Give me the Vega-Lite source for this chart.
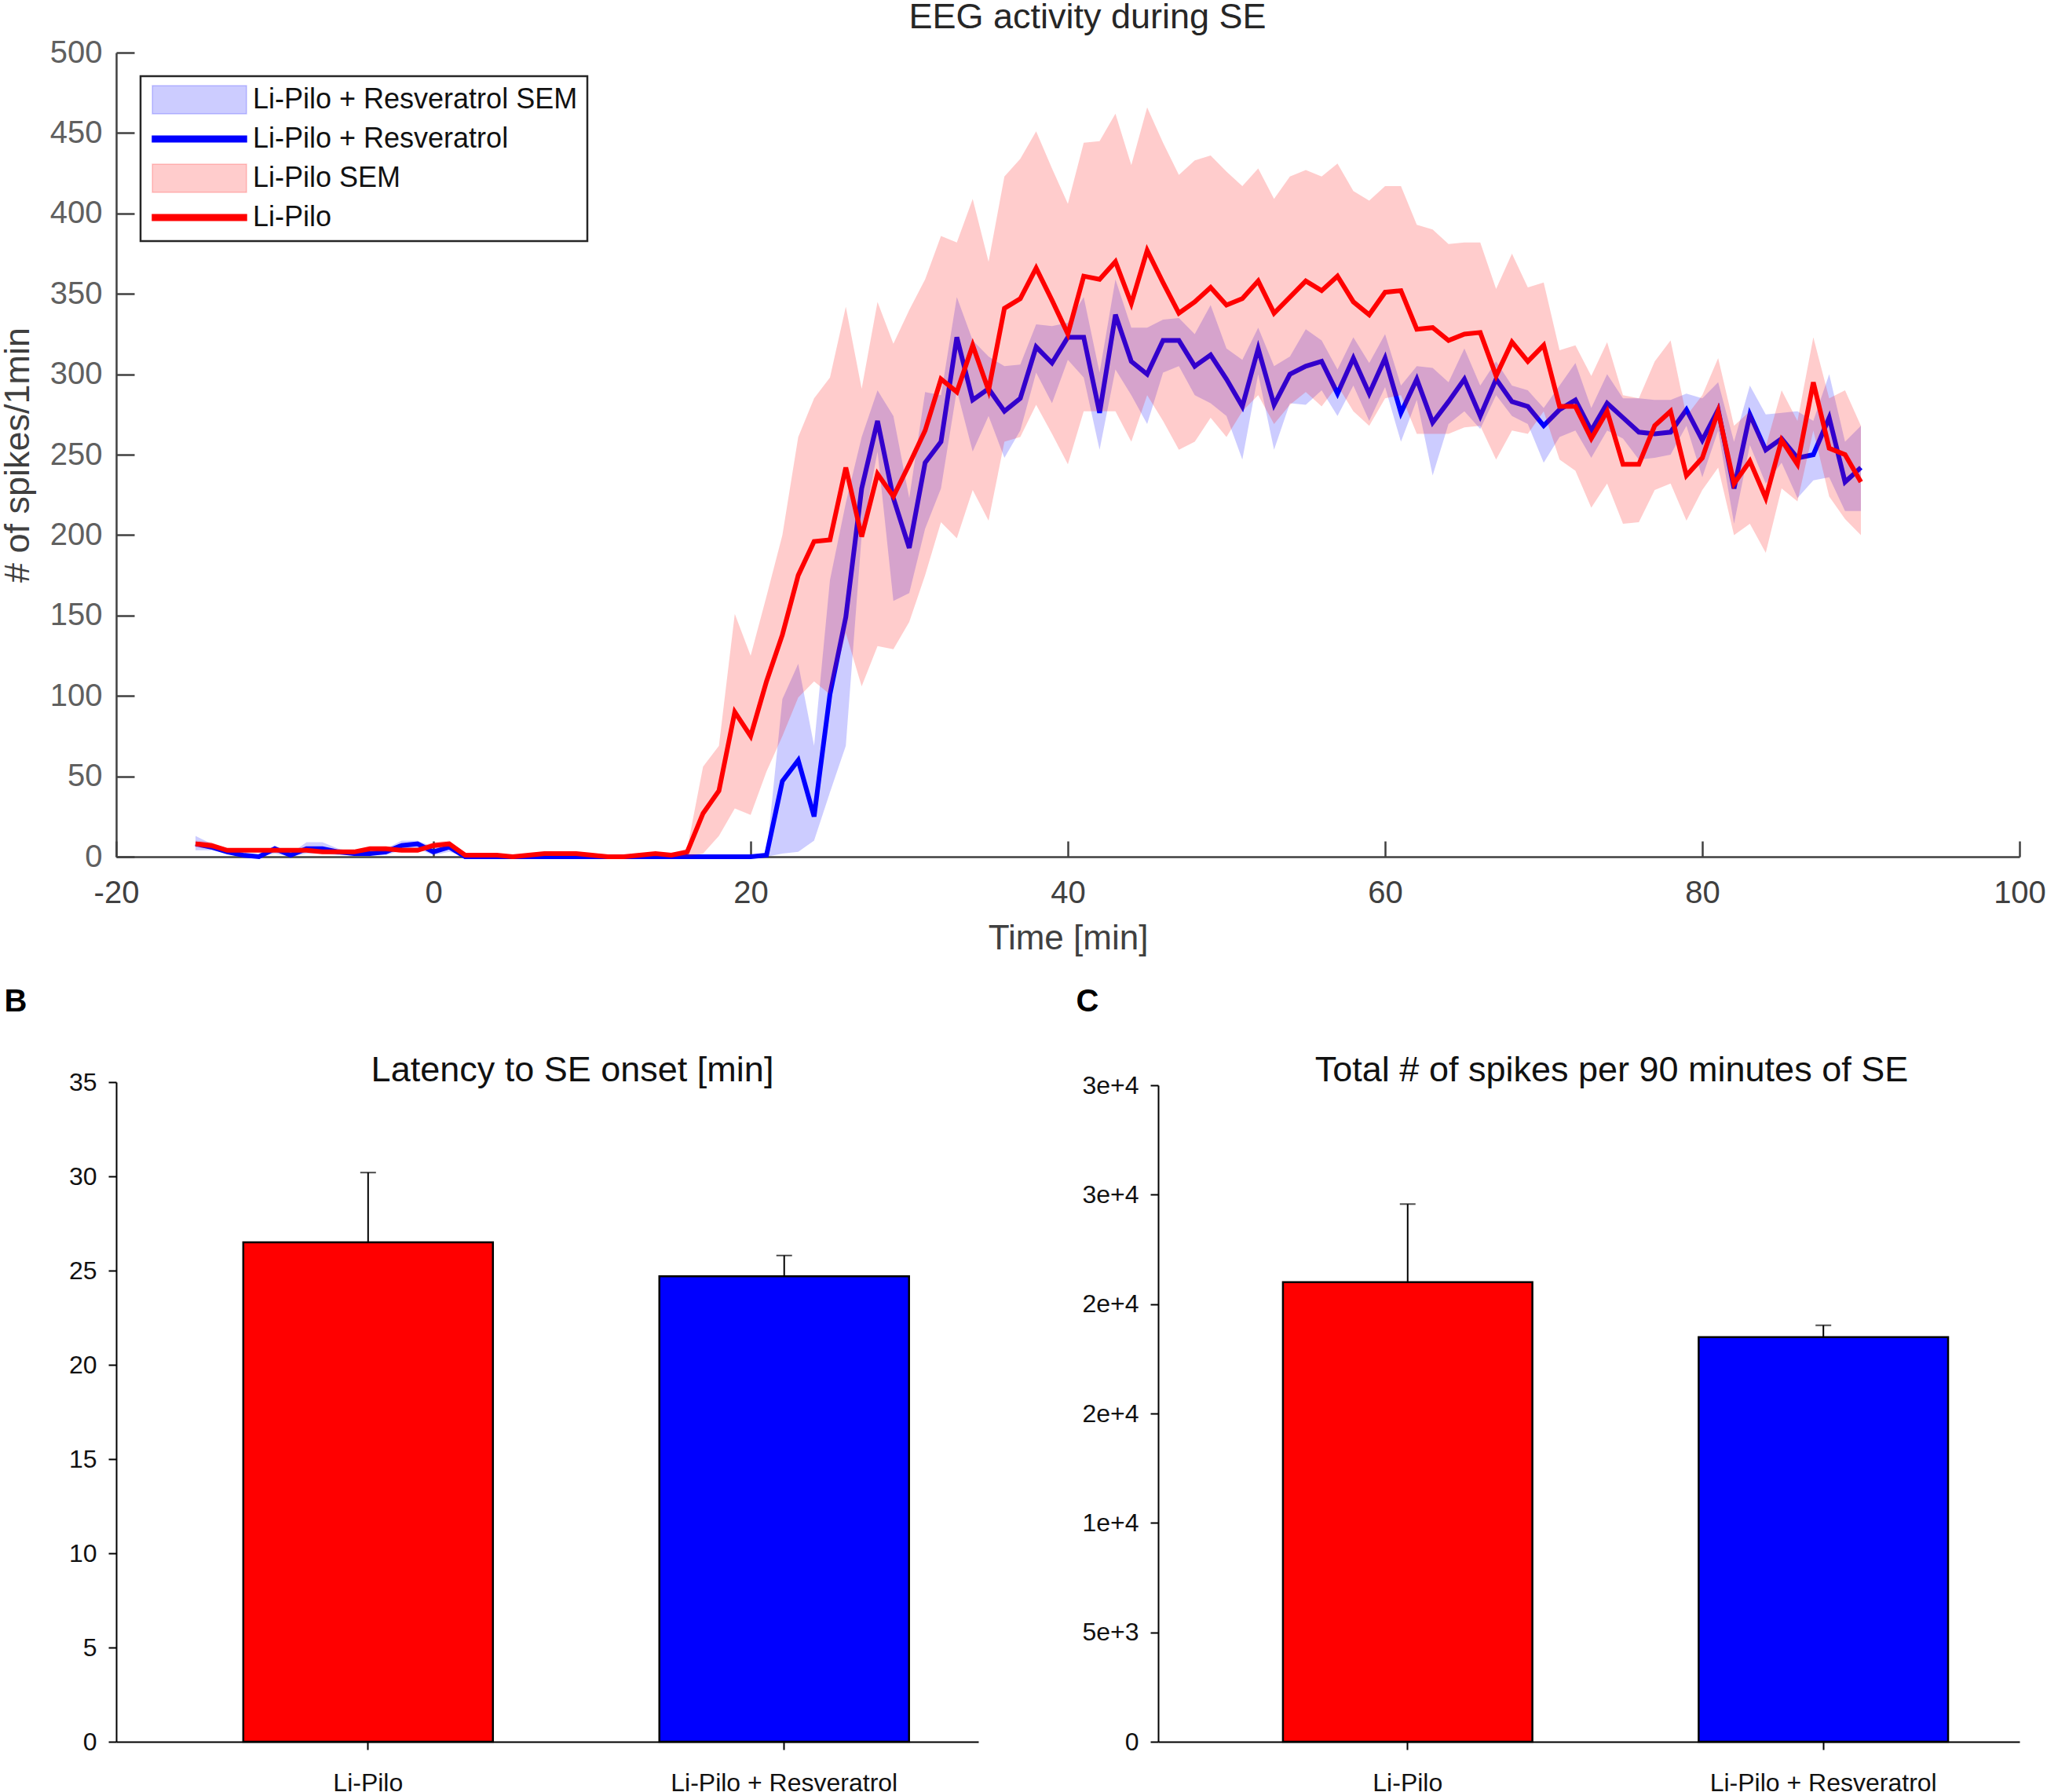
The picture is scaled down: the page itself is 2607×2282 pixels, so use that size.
{
  "$schema": "https://vega.github.io/schema/vega-lite/v6.json",
  "background": "white",
  "padding": {"left": 0, "top": 0, "right": 0, "bottom": 0},
  "config": {"view": {"stroke": null}, "font": "Liberation Sans", "legend": {"strokeWidth": 2.5}},
  "datasets": {
    "eeg": [
      {"t":-15,"rv":8,"rv_lo":4,"rv_hi":13,"lp":8,"lp_lo":6,"lp_hi":10},
      {"t":-14,"rv":6,"rv_lo":4,"rv_hi":8,"lp":7,"lp_lo":5,"lp_hi":9},
      {"t":-13,"rv":3,"rv_lo":2,"rv_hi":4,"lp":4,"lp_lo":3,"lp_hi":5},
      {"t":-12,"rv":1,"rv_lo":0,"rv_hi":2,"lp":4,"lp_lo":3,"lp_hi":5},
      {"t":-11,"rv":0,"rv_lo":0,"rv_hi":1,"lp":4,"lp_lo":3,"lp_hi":5},
      {"t":-10,"rv":5,"rv_lo":2,"rv_hi":7,"lp":4,"lp_lo":3,"lp_hi":5},
      {"t":-9,"rv":1,"rv_lo":0,"rv_hi":2,"lp":4,"lp_lo":3,"lp_hi":5},
      {"t":-8,"rv":5,"rv_lo":2,"rv_hi":9,"lp":4,"lp_lo":3,"lp_hi":5},
      {"t":-7,"rv":5,"rv_lo":2,"rv_hi":9,"lp":3,"lp_lo":2,"lp_hi":4},
      {"t":-6,"rv":3,"rv_lo":1,"rv_hi":5,"lp":3,"lp_lo":2,"lp_hi":4},
      {"t":-5,"rv":2,"rv_lo":1,"rv_hi":3,"lp":3,"lp_lo":2,"lp_hi":4},
      {"t":-4,"rv":2,"rv_lo":1,"rv_hi":3,"lp":5,"lp_lo":3,"lp_hi":6},
      {"t":-3,"rv":3,"rv_lo":1,"rv_hi":5,"lp":5,"lp_lo":3,"lp_hi":6},
      {"t":-2,"rv":7,"rv_lo":4,"rv_hi":10,"lp":4,"lp_lo":3,"lp_hi":6},
      {"t":-1,"rv":8,"rv_lo":5,"rv_hi":10,"lp":4,"lp_lo":3,"lp_hi":6},
      {"t":0,"rv":3,"rv_lo":1,"rv_hi":6,"lp":7,"lp_lo":5,"lp_hi":9},
      {"t":1,"rv":6,"rv_lo":3,"rv_hi":8,"lp":8,"lp_lo":6,"lp_hi":10},
      {"t":2,"rv":0,"rv_lo":0,"rv_hi":1,"lp":1,"lp_lo":0,"lp_hi":2},
      {"t":3,"rv":0,"rv_lo":0,"rv_hi":0,"lp":1,"lp_lo":0,"lp_hi":2},
      {"t":4,"rv":0,"rv_lo":0,"rv_hi":0,"lp":1,"lp_lo":0,"lp_hi":2},
      {"t":5,"rv":0,"rv_lo":0,"rv_hi":0,"lp":0,"lp_lo":0,"lp_hi":1},
      {"t":6,"rv":0,"rv_lo":0,"rv_hi":0,"lp":1,"lp_lo":0,"lp_hi":2},
      {"t":7,"rv":0,"rv_lo":0,"rv_hi":0,"lp":2,"lp_lo":1,"lp_hi":3},
      {"t":8,"rv":0,"rv_lo":0,"rv_hi":0,"lp":2,"lp_lo":1,"lp_hi":3},
      {"t":9,"rv":0,"rv_lo":0,"rv_hi":0,"lp":2,"lp_lo":1,"lp_hi":3},
      {"t":10,"rv":0,"rv_lo":0,"rv_hi":0,"lp":1,"lp_lo":0,"lp_hi":2},
      {"t":11,"rv":0,"rv_lo":0,"rv_hi":0,"lp":0,"lp_lo":0,"lp_hi":1},
      {"t":12,"rv":0,"rv_lo":0,"rv_hi":0,"lp":0,"lp_lo":0,"lp_hi":1},
      {"t":13,"rv":0,"rv_lo":0,"rv_hi":0,"lp":1,"lp_lo":0,"lp_hi":2},
      {"t":14,"rv":0,"rv_lo":0,"rv_hi":0,"lp":2,"lp_lo":1,"lp_hi":3},
      {"t":15,"rv":0,"rv_lo":0,"rv_hi":0,"lp":1,"lp_lo":0,"lp_hi":2},
      {"t":16,"rv":0,"rv_lo":0,"rv_hi":0,"lp":3,"lp_lo":0,"lp_hi":5},
      {"t":17,"rv":0,"rv_lo":0,"rv_hi":0,"lp":27,"lp_lo":2,"lp_hi":56},
      {"t":18,"rv":0,"rv_lo":0,"rv_hi":0,"lp":41,"lp_lo":13,"lp_hi":69},
      {"t":19,"rv":0,"rv_lo":0,"rv_hi":0,"lp":90,"lp_lo":30,"lp_hi":151},
      {"t":20,"rv":0,"rv_lo":0,"rv_hi":0,"lp":75,"lp_lo":26,"lp_hi":125},
      {"t":21,"rv":1,"rv_lo":0,"rv_hi":1,"lp":109,"lp_lo":53,"lp_hi":162},
      {"t":22,"rv":47,"rv_lo":2,"rv_hi":98,"lp":138,"lp_lo":75,"lp_hi":200},
      {"t":23,"rv":60,"rv_lo":3,"rv_hi":120,"lp":175,"lp_lo":99,"lp_hi":261},
      {"t":24,"rv":25,"rv_lo":10,"rv_hi":69,"lp":196,"lp_lo":109,"lp_hi":285},
      {"t":25,"rv":101,"rv_lo":40,"rv_hi":172,"lp":197,"lp_lo":101,"lp_hi":298},
      {"t":26,"rv":149,"rv_lo":69,"rv_hi":220,"lp":242,"lp_lo":139,"lp_hi":342},
      {"t":27,"rv":229,"rv_lo":200,"rv_hi":261,"lp":199,"lp_lo":106,"lp_hi":291},
      {"t":28,"rv":271,"rv_lo":252,"rv_hi":290,"lp":238,"lp_lo":131,"lp_hi":345},
      {"t":29,"rv":223,"rv_lo":159,"rv_hi":274,"lp":224,"lp_lo":129,"lp_hi":319},
      {"t":30,"rv":192,"rv_lo":164,"rv_hi":223,"lp":244,"lp_lo":146,"lp_hi":340},
      {"t":31,"rv":245,"rv_lo":204,"rv_hi":289,"lp":265,"lp_lo":175,"lp_hi":359},
      {"t":32,"rv":258,"rv_lo":229,"rv_hi":287,"lp":297,"lp_lo":208,"lp_hi":386},
      {"t":33,"rv":323,"rv_lo":290,"rv_hi":348,"lp":289,"lp_lo":198,"lp_hi":382},
      {"t":34,"rv":284,"rv_lo":252,"rv_hi":321,"lp":318,"lp_lo":228,"lp_hi":409},
      {"t":35,"rv":291,"rv_lo":274,"rv_hi":311,"lp":290,"lp_lo":209,"lp_hi":370},
      {"t":36,"rv":277,"rv_lo":248,"rv_hi":305,"lp":341,"lp_lo":258,"lp_hi":423},
      {"t":37,"rv":285,"rv_lo":265,"rv_hi":306,"lp":347,"lp_lo":261,"lp_hi":434},
      {"t":38,"rv":317,"rv_lo":301,"rv_hi":331,"lp":366,"lp_lo":281,"lp_hi":451},
      {"t":39,"rv":307,"rv_lo":282,"rv_hi":330,"lp":346,"lp_lo":263,"lp_hi":428},
      {"t":40,"rv":323,"rv_lo":309,"rv_hi":332,"lp":325,"lp_lo":244,"lp_hi":406},
      {"t":41,"rv":323,"rv_lo":298,"rv_hi":348,"lp":361,"lp_lo":277,"lp_hi":444},
      {"t":42,"rv":276,"rv_lo":253,"rv_hi":301,"lp":359,"lp_lo":277,"lp_hi":445},
      {"t":43,"rv":337,"rv_lo":303,"rv_hi":359,"lp":370,"lp_lo":277,"lp_hi":462},
      {"t":44,"rv":308,"rv_lo":287,"rv_hi":329,"lp":344,"lp_lo":258,"lp_hi":430},
      {"t":45,"rv":300,"rv_lo":269,"rv_hi":329,"lp":377,"lp_lo":287,"lp_hi":466},
      {"t":46,"rv":321,"rv_lo":301,"rv_hi":334,"lp":357,"lp_lo":271,"lp_hi":444},
      {"t":47,"rv":321,"rv_lo":305,"rv_hi":335,"lp":338,"lp_lo":253,"lp_hi":424},
      {"t":48,"rv":305,"rv_lo":287,"rv_hi":325,"lp":345,"lp_lo":258,"lp_hi":433},
      {"t":49,"rv":312,"rv_lo":282,"rv_hi":343,"lp":354,"lp_lo":273,"lp_hi":436},
      {"t":50,"rv":297,"rv_lo":274,"rv_hi":316,"lp":343,"lp_lo":261,"lp_hi":426},
      {"t":51,"rv":280,"rv_lo":247,"rv_hi":309,"lp":347,"lp_lo":277,"lp_hi":417},
      {"t":52,"rv":316,"rv_lo":300,"rv_hi":329,"lp":358,"lp_lo":287,"lp_hi":428},
      {"t":53,"rv":281,"rv_lo":253,"rv_hi":305,"lp":338,"lp_lo":269,"lp_hi":409},
      {"t":54,"rv":300,"rv_lo":282,"rv_hi":311,"lp":348,"lp_lo":281,"lp_hi":423},
      {"t":55,"rv":305,"rv_lo":281,"rv_hi":328,"lp":358,"lp_lo":289,"lp_hi":427},
      {"t":56,"rv":308,"rv_lo":290,"rv_hi":321,"lp":352,"lp_lo":280,"lp_hi":423},
      {"t":57,"rv":288,"rv_lo":274,"rv_hi":303,"lp":361,"lp_lo":293,"lp_hi":431},
      {"t":58,"rv":310,"rv_lo":293,"rv_hi":323,"lp":345,"lp_lo":277,"lp_hi":414},
      {"t":59,"rv":288,"rv_lo":271,"rv_hi":307,"lp":337,"lp_lo":268,"lp_hi":408},
      {"t":60,"rv":310,"rv_lo":292,"rv_hi":325,"lp":351,"lp_lo":285,"lp_hi":417},
      {"t":61,"rv":276,"rv_lo":258,"rv_hi":293,"lp":352,"lp_lo":287,"lp_hi":417},
      {"t":62,"rv":297,"rv_lo":284,"rv_hi":305,"lp":328,"lp_lo":263,"lp_hi":393},
      {"t":63,"rv":270,"rv_lo":237,"rv_hi":304,"lp":329,"lp_lo":263,"lp_hi":390},
      {"t":64,"rv":283,"rv_lo":269,"rv_hi":295,"lp":321,"lp_lo":263,"lp_hi":381},
      {"t":65,"rv":297,"rv_lo":277,"rv_hi":316,"lp":325,"lp_lo":267,"lp_hi":382},
      {"t":66,"rv":274,"rv_lo":266,"rv_hi":293,"lp":326,"lp_lo":268,"lp_hi":382},
      {"t":67,"rv":297,"rv_lo":287,"rv_hi":308,"lp":299,"lp_lo":247,"lp_hi":353},
      {"t":68,"rv":283,"rv_lo":274,"rv_hi":293,"lp":320,"lp_lo":265,"lp_hi":375},
      {"t":69,"rv":280,"rv_lo":269,"rv_hi":290,"lp":308,"lp_lo":263,"lp_hi":354},
      {"t":70,"rv":268,"rv_lo":245,"rv_hi":279,"lp":318,"lp_lo":277,"lp_hi":357},
      {"t":71,"rv":278,"rv_lo":261,"rv_hi":293,"lp":280,"lp_lo":247,"lp_hi":315},
      {"t":72,"rv":284,"rv_lo":265,"rv_hi":307,"lp":280,"lp_lo":240,"lp_hi":318},
      {"t":73,"rv":265,"rv_lo":248,"rv_hi":279,"lp":260,"lp_lo":217,"lp_hi":299},
      {"t":74,"rv":282,"rv_lo":265,"rv_hi":300,"lp":277,"lp_lo":232,"lp_hi":320},
      {"t":75,"rv":273,"rv_lo":260,"rv_hi":285,"lp":244,"lp_lo":207,"lp_hi":287},
      {"t":76,"rv":264,"rv_lo":247,"rv_hi":285,"lp":244,"lp_lo":208,"lp_hi":285},
      {"t":77,"rv":263,"rv_lo":248,"rv_hi":284,"lp":268,"lp_lo":228,"lp_hi":308},
      {"t":78,"rv":264,"rv_lo":250,"rv_hi":284,"lp":277,"lp_lo":232,"lp_hi":321},
      {"t":79,"rv":278,"rv_lo":268,"rv_hi":288,"lp":237,"lp_lo":209,"lp_hi":274},
      {"t":80,"rv":259,"rv_lo":236,"rv_hi":285,"lp":248,"lp_lo":228,"lp_hi":287},
      {"t":81,"rv":278,"rv_lo":265,"rv_hi":295,"lp":277,"lp_lo":242,"lp_hi":310},
      {"t":82,"rv":229,"rv_lo":207,"rv_hi":258,"lp":232,"lp_lo":200,"lp_hi":268},
      {"t":83,"rv":275,"rv_lo":256,"rv_hi":293,"lp":246,"lp_lo":207,"lp_hi":277},
      {"t":84,"rv":253,"rv_lo":232,"rv_hi":275,"lp":223,"lp_lo":189,"lp_hi":255},
      {"t":85,"rv":260,"rv_lo":245,"rv_hi":276,"lp":259,"lp_lo":229,"lp_hi":290},
      {"t":86,"rv":248,"rv_lo":223,"rv_hi":277,"lp":244,"lp_lo":221,"lp_hi":271},
      {"t":87,"rv":250,"rv_lo":234,"rv_hi":271,"lp":295,"lp_lo":265,"lp_hi":323},
      {"t":88,"rv":273,"rv_lo":236,"rv_hi":300,"lp":254,"lp_lo":224,"lp_hi":285},
      {"t":89,"rv":233,"rv_lo":215,"rv_hi":258,"lp":250,"lp_lo":210,"lp_hi":290},
      {"t":90,"rv":242,"rv_lo":215,"rv_hi":268,"lp":233,"lp_lo":200,"lp_hi":268}
    ],
    "latency": [
      {"group": "Li-Pilo", "value": 26.5, "upper": 30.2},
      {"group": "Li-Pilo + Resveratrol", "value": 24.7, "upper": 25.8}
    ],
    "spikes": [
      {"group": "Li-Pilo", "value": 21000, "upper": 24570},
      {"group": "Li-Pilo + Resveratrol", "value": 18490, "upper": 19030}
    ]
  },
  "spacing": 287,
  "bounds": "flush",
  "vconcat": [
    {
      "width": 2424,
      "height": 1024,
      "title": {"text": "EEG activity during SE", "fontSize": 45, "fontWeight": "normal", "color": "#262626", "anchor": "middle", "dx": 25, "offset": 2},
      "data": {"name": "eeg"},
      "encoding": {
        "x": {
          "field": "t",
          "type": "quantitative",
          "scale": {"domain": [-20, 100], "nice": false},
          "axis": {
            "title": "Time [min]",
            "values": [-20, 0, 20, 40, 60, 80, 100],
            "labelExpr": "'' + datum.value",
            "labelFlush": false,
            "grid": false,
            "domainColor": "#404040",
            "domainWidth": 2.5,
            "tickColor": "#404040",
            "tickWidth": 2.5,
            "tickSize": -20,
            "labelFontSize": 40,
            "labelColor": "#404040",
            "labelPadding": 46,
            "titleFontSize": 44,
            "titleFontWeight": "normal",
            "titleColor": "#404040",
            "titlePadding": 16
          }
        }
      },
      "layer": [
        {
          "mark": {"type": "area"},
          "encoding": {
            "y": {
              "field": "rv_lo",
              "type": "quantitative",
              "scale": {"domain": [0, 500], "nice": false},
              "axis": {
                "title": "# of spikes/1min",
                "values": [0, 50, 100, 150, 200, 250, 300, 350, 400, 450, 500],
                "labelFlush": false,
                "grid": false,
                "domainColor": "#404040",
                "domainWidth": 2.5,
                "tickColor": "#404040",
                "tickWidth": 2.5,
                "tickSize": -23,
                "labelFontSize": 40,
                "labelColor": "#606060",
                "labelPadding": 41,
                "titleFontSize": 45,
                "titleFontWeight": "normal",
                "titleColor": "#404040",
                "titleX": -103
              }
            },
            "y2": {"field": "rv_hi"},
            "color": {
              "datum": "Li-Pilo + Resveratrol SEM",
              "scale": {
                "domain": ["Li-Pilo + Resveratrol SEM", "Li-Pilo + Resveratrol", "Li-Pilo SEM", "Li-Pilo"],
                "range": ["rgba(0,0,255,0.2)", "#0000ff", "rgba(255,0,0,0.2)", "#ff0000"]
              },
              "legend": {
                "title": null,
                "orient": "none",
                "legendX": 31,
                "legendY": 30,
                "fillColor": "white",
                "strokeColor": "#262626",
                "padding": 12,
                "symbolSize": 900,
                "labelFontSize": 36,
                "labelColor": "#111111",
                "labelLimit": 700,
                "labelOffset": 95,
                "rowPadding": 11,
                "encode": {
                  "symbols": {
                    "update": {
                      "shape": {"signal": "indexof(datum.value, 'SEM') >= 0 ? 'M-1,-1.2L7,-1.2L7,1.2L-1,1.2Z' : 'M-1,-0.25L7,-0.25L7,0.25L-1,0.25Z'"},
                      "fill": {"signal": "scale('color', datum.value)"},
                      "stroke": {"value": "transparent"},
                      "opacity": {"value": 1}
                    }
                  }
                }
              }
            }
          }
        },
        {
          "mark": {"type": "line", "strokeWidth": 6, "strokeJoin": "miter"},
          "encoding": {
            "y": {"field": "rv", "type": "quantitative"},
            "color": {"datum": "Li-Pilo + Resveratrol"}
          }
        },
        {
          "mark": {"type": "area"},
          "encoding": {
            "y": {"field": "lp_lo", "type": "quantitative"},
            "y2": {"field": "lp_hi"},
            "color": {"datum": "Li-Pilo SEM"}
          }
        },
        {
          "mark": {"type": "line", "strokeWidth": 6, "strokeJoin": "miter"},
          "encoding": {
            "y": {"field": "lp", "type": "quantitative"},
            "color": {"datum": "Li-Pilo"}
          }
        },
        {
          "data": {"values": [{"panel": "A"}]},
          "mark": {"type": "text", "fontSize": 40, "fontWeight": "bold", "align": "left", "baseline": "middle", "color": "#000000"},
          "encoding": {
            "x": {"datum": -27.1},
            "y": {"datum": 521},
            "text": {"field": "panel"}
          }
        }
      ]
    },
    {
      "spacing": 229,
      "bounds": "flush",
      "hconcat": [
        {
          "width": 1098,
          "height": 840,
          "title": {"text": "Latency to SE onset [min]", "fontSize": 45, "fontWeight": "normal", "color": "#111111", "anchor": "middle", "dx": 32, "offset": -131},
          "data": {"name": "latency"},
          "encoding": {
            "x": {
              "field": "group",
              "type": "nominal",
              "sort": null,
              "scale": {"paddingInner": 0.4, "paddingOuter": 0.236, "align": 0.647},
              "axis": {
                "title": null,
                "labelAngle": 0,
                "labelFontSize": 32,
                "labelLimit": 600,
                "labelColor": "#111111",
                "labelPadding": 27,
                "domainColor": "#000000",
                "domainWidth": 2,
                "tickColor": "#000000",
                "tickWidth": 2,
                "tickSize": 10
              }
            }
          },
          "layer": [
            {
              "mark": {"type": "rule", "color": "#000000", "strokeWidth": 2},
              "encoding": {
                "y": {"field": "value", "type": "quantitative"},
                "y2": {"field": "upper"}
              }
            },
            {
              "mark": {"type": "tick", "color": "#000000", "size": 20, "thickness": 2},
              "encoding": {
                "y": {"field": "upper", "type": "quantitative"}
              }
            },
            {
              "mark": {"type": "bar", "stroke": "#000000", "strokeWidth": 2.5},
              "encoding": {
                "y": {
                  "field": "value",
                  "type": "quantitative",
                  "scale": {"domain": [0, 35], "nice": false},
                  "axis": {
                    "title": "B",
                    "titleAngle": 0,
                    "titleX": -143,
                    "titleY": -103,
                    "titleAlign": "left",
                    "titleBaseline": "middle",
                    "titleFontSize": 40,
                    "titleFontWeight": "bold",
                    "titleColor": "#000000",
                    "values": [0, 5, 10, 15, 20, 25, 30, 35],
                    "grid": false,
                    "labelFontSize": 32,
                    "labelColor": "#111111",
                    "labelPadding": 15,
                    "domainColor": "#000000",
                    "domainWidth": 2,
                    "tickColor": "#000000",
                    "tickWidth": 2,
                    "tickSize": 10
                  }
                },
                "color": {"condition": {"test": "datum.group == 'Li-Pilo'", "value": "#ff0000"}, "value": "#0000ff"}
              }
            }
          ]
        },
        {
          "width": 1097,
          "height": 840,
          "title": {"text": "Total # of spikes per 90 minutes of SE", "fontSize": 45, "fontWeight": "normal", "color": "#111111", "anchor": "middle", "dx": 29, "offset": -131},
          "data": {"name": "spikes"},
          "encoding": {
            "x": {
              "field": "group",
              "type": "nominal",
              "sort": null,
              "scale": {"paddingInner": 0.4, "paddingOuter": 0.236, "align": 0.636},
              "axis": {
                "title": null,
                "labelAngle": 0,
                "labelFontSize": 32,
                "labelLimit": 600,
                "labelColor": "#111111",
                "labelPadding": 27,
                "domainColor": "#000000",
                "domainWidth": 2,
                "tickColor": "#000000",
                "tickWidth": 2,
                "tickSize": 10
              }
            }
          },
          "layer": [
            {
              "mark": {"type": "rule", "color": "#000000", "strokeWidth": 2},
              "encoding": {
                "y": {"field": "value", "type": "quantitative"},
                "y2": {"field": "upper"}
              }
            },
            {
              "mark": {"type": "tick", "color": "#000000", "size": 20, "thickness": 2},
              "encoding": {
                "y": {"field": "upper", "type": "quantitative"}
              }
            },
            {
              "mark": {"type": "bar", "stroke": "#000000", "strokeWidth": 2.5},
              "encoding": {
                "y": {
                  "field": "value",
                  "type": "quantitative",
                  "scale": {"domain": [0, 30000], "nice": false, "range": [840, 4]},
                  "axis": {
                    "title": "C",
                    "titleAngle": 0,
                    "titleX": -105,
                    "titleY": -103,
                    "titleAlign": "left",
                    "titleBaseline": "middle",
                    "titleFontSize": 40,
                    "titleFontWeight": "bold",
                    "titleColor": "#000000",
                    "values": [0, 5000, 10000, 15000, 20000, 25000, 30000],
                    "labelExpr": "datum.value == 0 ? '0' : format(datum.value, '.0e')",
                    "grid": false,
                    "labelFontSize": 32,
                    "labelColor": "#111111",
                    "labelPadding": 15,
                    "domainColor": "#000000",
                    "domainWidth": 2,
                    "tickColor": "#000000",
                    "tickWidth": 2,
                    "tickSize": 10
                  }
                },
                "color": {"condition": {"test": "datum.group == 'Li-Pilo'", "value": "#ff0000"}, "value": "#0000ff"}
              }
            }
          ]
        }
      ]
    }
  ]
}
